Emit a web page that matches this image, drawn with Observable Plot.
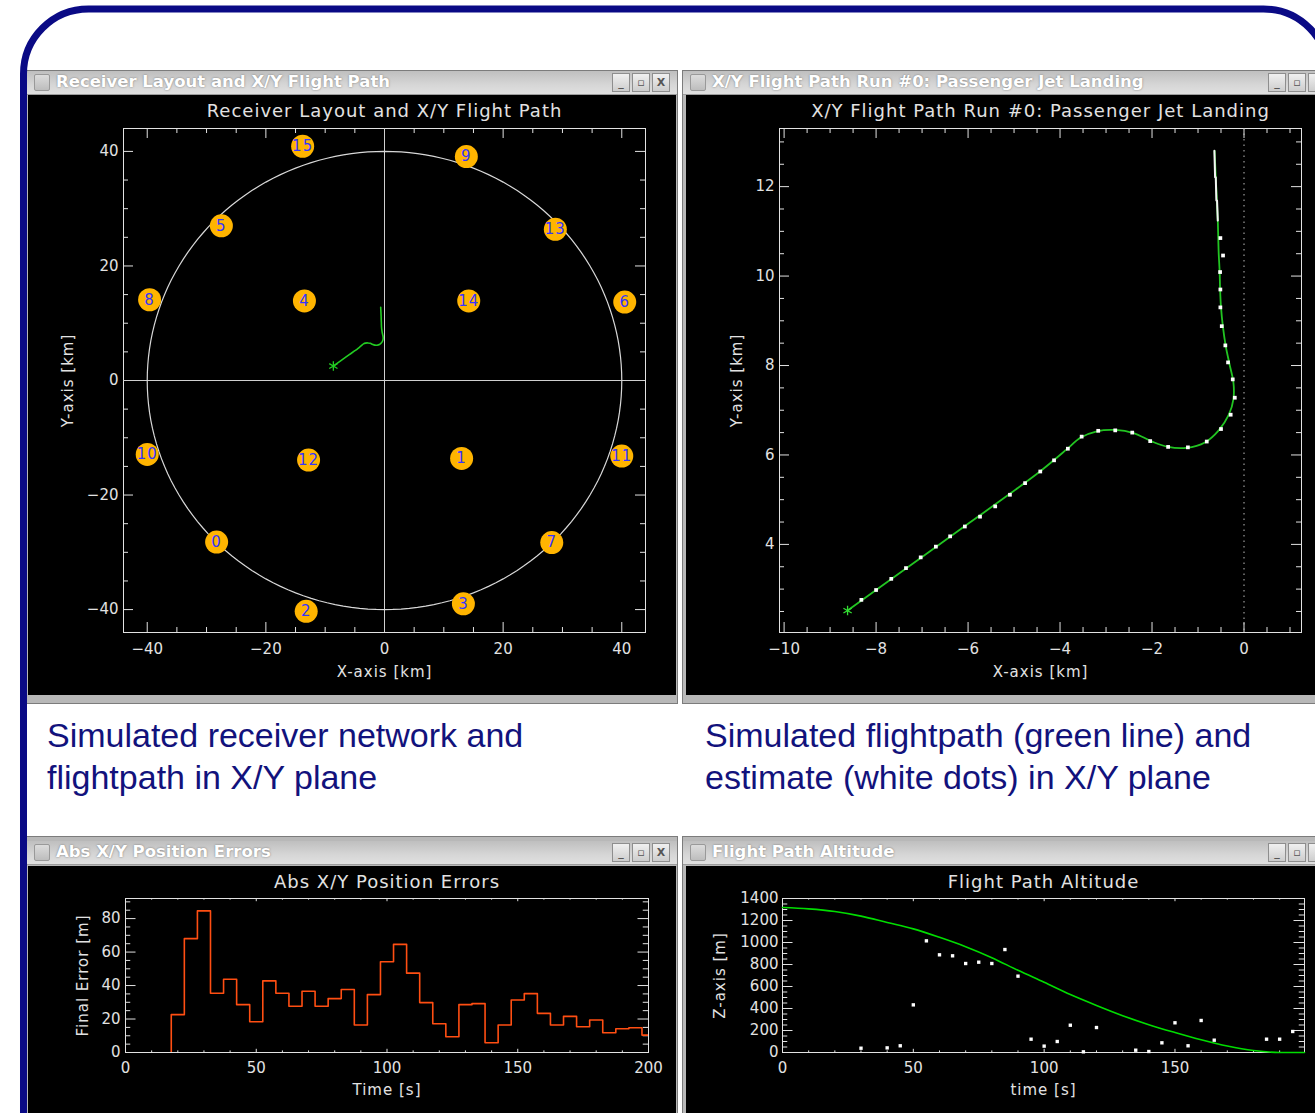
<!DOCTYPE html>
<html><head><meta charset="utf-8">
<script src="https://cdn.jsdelivr.net/npm/d3@7"></script>
<script src="https://cdn.jsdelivr.net/npm/@observablehq/plot@0.6"></script>
<style>
html,body{margin:0;padding:0;background:#fff;}
#page{position:relative;width:1315px;height:1113px;overflow:hidden;background:#fff;}
.win{position:absolute;background:#b8b8b8;border:1px solid #7c7c7c;box-sizing:border-box;}
.tbar{position:absolute;left:0;right:0;height:24px;background:linear-gradient(#bfbfbf,#d6d6d6 60%,#e0e0e0);border-bottom:1px solid #9c9c9c;box-sizing:border-box;}
.ico{position:absolute;left:7px;top:3px;width:14px;height:15px;border:1px solid #999;background:linear-gradient(#dcdcdc,#bdbdbd);border-radius:2px;}
.ttl{position:absolute;left:29px;top:1px;font:bold 16.5px "DejaVu Sans",sans-serif;color:#fff;white-space:nowrap;text-shadow:0 0 2px #707070;}
.btn{position:absolute;top:2px;width:16px;height:17px;border:1px solid #8e8e8e;background:linear-gradient(#f0f0f0,#cdcdcd);font:bold 11px "DejaVu Sans",sans-serif;color:#555;text-align:center;line-height:17px;}
.plot{position:absolute;background:#000;overflow:hidden;}
.cap{position:absolute;font-family:"Liberation Sans",Arial,sans-serif;font-size:34px;color:#12127c;line-height:42px;white-space:nowrap;}
.plot svg g[aria-label="text"] text{letter-spacing:1px;}
</style>
</head><body>
<div id="page">
  <div class="win" style="left:26px;top:70px;width:652px;height:634px;">
    <div class="tbar" style="top:0"><div class="ico"></div><div class="ttl">Receiver Layout and X/Y Flight Path</div>
      <div class="btn" style="left:585px">_</div><div class="btn" style="left:605px">▫</div><div class="btn" style="left:625px">X</div></div>
    <div class="plot" id="p1" style="left:1px;top:24px;width:648px;height:600px;"></div>
  </div>
  <div class="win" style="left:682px;top:70px;width:660px;height:634px;">
    <div class="tbar" style="top:0"><div class="ico"></div><div class="ttl">X/Y Flight Path Run #0: Passenger Jet Landing</div>
      <div class="btn" style="left:585px">_</div><div class="btn" style="left:605px">▫</div><div class="btn" style="left:625px"></div></div>
    <div class="plot" id="p2" style="left:3px;top:24px;width:629px;height:600px;"></div>
  </div>
  <div class="win" style="left:26px;top:836px;width:652px;height:300px;">
    <div class="tbar" style="top:4px"><div class="ico"></div><div class="ttl">Abs X/Y Position Errors</div>
      <div class="btn" style="left:585px">_</div><div class="btn" style="left:605px">▫</div><div class="btn" style="left:625px">X</div></div>
    <div class="plot" id="p3" style="left:1px;top:29px;width:648px;height:247px;"></div>
  </div>
  <div class="win" style="left:682px;top:836px;width:660px;height:300px;">
    <div class="tbar" style="top:4px"><div class="ico"></div><div class="ttl">Flight Path Altitude</div>
      <div class="btn" style="left:585px">_</div><div class="btn" style="left:605px">▫</div><div class="btn" style="left:625px"></div></div>
    <div class="plot" id="p4" style="left:3px;top:29px;width:629px;height:247px;"></div>
  </div>
  <div class="cap" style="left:47px;top:714px;">Simulated receiver network and<br>flightpath in X/Y plane</div>
  <div class="cap" style="left:705px;top:714px;">Simulated flightpath (green line) and<br>estimate (white dots) in X/Y plane</div>
  <svg style="position:absolute;left:0;top:0;" width="1315" height="1113">
    <rect x="23.5" y="9" width="1305" height="1200" rx="65" ry="65" fill="none" stroke="#0a0a85" stroke-width="7"/>
  </svg>
</div>
<script>
// ---------- data ----------
const receiverIds = [0,1,2,3,4,5,6,7,8,9,10,11,12,13,14,15];
const receiverX = [-28.3, 13.0, -13.2, 13.3, -13.5, -27.5, 40.5, 28.2, -39.6, 13.8, -40.0, 40.0, -12.8, 28.8, 14.2, -13.8];
const receiverY = [-28.2, -13.6, -40.3, -39.0, 13.9, 27.0, 13.7, -28.3, 14.1, 39.1, -12.9, -13.2, -13.9, 26.4, 13.9, 40.9];
const circleRadius = 40;

// true flight path in X/Y [km]
const pathX = [-8.62, -8.0, -7.0, -6.0, -5.0, -4.45, -4.15, -3.85, -3.55, -3.2, -2.8, -2.4, -2.0, -1.65, -1.25, -0.85, -0.55, -0.33, -0.23, -0.23, -0.32, -0.4, -0.46, -0.5, -0.52, -0.53, -0.55, -0.56, -0.57, -0.6, -0.64];
const pathY = [2.52, 2.98, 3.72, 4.46, 5.2, 5.62, 5.87, 6.13, 6.39, 6.53, 6.56, 6.49, 6.3, 6.18, 6.16, 6.28, 6.55, 6.9, 7.25, 7.62, 8.05, 8.45, 8.88, 9.3, 9.7, 10.1, 10.5, 10.85, 11.24, 11.9, 12.8];
// estimate (white dots) [km]
const estX = [-8.32, -8.0, -7.67, -7.35, -7.03, -6.70, -6.39, -6.07, -5.74, -5.41, -5.09, -4.76, -4.43, -4.13, -3.83, -3.53, -3.17, -2.80, -2.43, -2.04, -1.65, -1.22, -0.81, -0.50, -0.29, -0.20, -0.245, -0.347, -0.406, -0.484, -0.514, -0.514, -0.52, -0.456, -0.514];
const estY = [2.76, 2.98, 3.23, 3.47, 3.71, 3.95, 4.18, 4.40, 4.62, 4.85, 5.11, 5.37, 5.63, 5.88, 6.14, 6.41, 6.54, 6.55, 6.50, 6.31, 6.18, 6.17, 6.30, 6.58, 6.90, 7.28, 7.69, 8.07, 8.45, 8.88, 9.30, 9.70, 10.09, 10.46, 10.85];
// estimated track drawn as white line near the start of the run
const estLineX = [-0.644, -0.629, -0.614, -0.601, -0.586, -0.57];
const estLineY = [12.8, 12.21, 12.21, 11.69, 11.69, 11.24];

// abs X/Y position errors
const errTime = [20,25,30,35,40,45,50,55,60,65,70,75,80,85,90,95,100,105,110,115,120,125,130,135,140,145,150,155,160,165,170,175,180,185,190,195,200];
const errValue = [22.6, 68, 84.6, 35.4, 43.8, 28.6, 18.4, 42.8, 35.4, 27.6, 36.6, 27.6, 32.2, 37.6, 16.4, 34.6, 54.2, 64.6, 47.4, 29.8, 17.2, 9.4, 28.6, 29.2, 5.8, 16.4, 31.4, 35.2, 23.4, 16.4, 21.6, 15.4, 19.4, 11.8, 14.2, 14.8, 10.4];
const errBin = 5;

// altitude
const altTime = [0, 10, 20, 30, 40, 50, 60, 70, 80, 90, 100, 110, 120, 130, 140, 150, 160, 170, 180, 190, 199.5];
const altTrue = [1318, 1306, 1282, 1240, 1182, 1124, 1047, 962, 862, 747, 638, 527, 428, 335, 253, 182, 116, 59, 18, 0, 0];
const altEstTime = [30, 40, 45, 50, 55, 60, 65, 70, 75, 80, 85, 90, 95, 100, 105, 110, 115, 120, 135, 140, 145, 150, 155, 160, 165, 185, 190, 195];
const altEst = [39, 42, 61, 433, 1015, 888, 879, 809, 821, 809, 936, 694, 121, 58, 100, 248, 6, 227, 21, 9, 88, 270, 61, 291, 112, 121, 121, 191];

// tick labels
const p1Ticks = [-40, -20, 0, 20, 40];
const p2XTicks = [-10, -8, -6, -4, -2, 0];
const p2YTicks = [4, 6, 8, 10, 12];
const p3XTicks = [0, 50, 100, 150, 200];
const p3YTicks = [0, 20, 40, 60, 80];
const p4XTicks = [0, 50, 100, 150];
const p4YTicks = [0, 200, 400, 600, 800, 1000, 1200, 1400];

// ---------- helpers ----------
const FG = "#e2e2e2";
const FONT = "DejaVu Sans, sans-serif";
const minor = (a, b, step, majors) => d3.range(a, b + step / 2, step).map(v => +v.toFixed(4)).filter(v => !majors.some(m => Math.abs(m - v) < 1e-6));

function idlTicks(xMaj, xMin, yMaj, yMin, W, H, xLen, yLen) {
  const o = {stroke: FG, strokeWidth: 1};
  return [
    Plot.ruleX(xMaj, {insetTop: H - xLen, ...o}),
    Plot.ruleX(xMaj, {insetBottom: H - xLen, ...o}),
    Plot.ruleX(xMin, {insetTop: H - xLen / 2, ...o}),
    Plot.ruleX(xMin, {insetBottom: H - xLen / 2, ...o}),
    Plot.ruleY(yMaj, {insetRight: W - yLen, ...o}),
    Plot.ruleY(yMaj, {insetLeft: W - yLen, ...o}),
    Plot.ruleY(yMin, {insetRight: W - yLen / 2, ...o}),
    Plot.ruleY(yMin, {insetLeft: W - yLen / 2, ...o})
  ];
}
function labels(title, xl, yl, titleDy, xlDy, ylDx) {
  const t = {fill: FG, fontFamily: FONT, text: d => d, lineAnchor: "middle", textAnchor: "middle"};
  return [
    Plot.text([title], {...t, fontSize: 18, frameAnchor: "top", dy: titleDy}),
    Plot.text([xl], {...t, fontSize: 15, frameAnchor: "bottom", dy: xlDy}),
    Plot.text([yl], {...t, fontSize: 15, frameAnchor: "left", dx: ylDx, rotate: -90})
  ];
}
const style = {background: "#000", color: FG, fontFamily: FONT, fontSize: "15px"};
const fmt = d3.format("d");

// ---------- panel 1 ----------
{
  const W = 648, H = 600, m = {l: 95, r: 31, t: 33, b: 63};
  const iw = W - m.l - m.r, ih = H - m.t - m.b;
  const recv = receiverIds.map((id, i) => ({id, x: receiverX[i], y: receiverY[i]}));
  const circle = d3.range(0, 361, 2).map(a => ({x: circleRadius * Math.cos(a * Math.PI / 180), y: circleRadius * Math.sin(a * Math.PI / 180)}));
  const path = pathX.map((x, i) => ({x, y: pathY[i]}));
  const xm = minor(-40, 40, 5, p1Ticks);
  const chart = Plot.plot({
    width: W, height: H, marginLeft: m.l, marginRight: m.r, marginTop: m.t, marginBottom: m.b,
    style,
    x: {domain: [-44, 44], ticks: p1Ticks, tickSize: 0, tickPadding: 11, tickFormat: fmt, label: null},
    y: {domain: [-44, 44], ticks: p1Ticks, tickSize: 0, tickPadding: 5, tickFormat: fmt, label: null},
    marks: [
      Plot.frame({stroke: FG}),
      ...idlTicks(p1Ticks, xm, p1Ticks, xm, iw, ih, 10, 10),
      Plot.ruleX([0], {stroke: "#d0d0d0"}),
      Plot.ruleY([0], {stroke: "#d0d0d0"}),
      Plot.line(circle, {x: "x", y: "y", stroke: "#d8d8d8", strokeWidth: 1.2}),
      Plot.line(path, {x: "x", y: "y", stroke: "#22cc22", strokeWidth: 1.6, curve: "catmull-rom"}),
      Plot.dot([path[0]], {x: "x", y: "y", symbol: "asterisk", stroke: "#22cc22", r: 4.5, strokeWidth: 1.3}),
      Plot.dot(recv, {x: "x", y: "y", r: 11.5, fill: "#ffb400"}),
      Plot.text(recv, {x: "x", y: "y", text: "id", fill: "#3434ff", fontSize: 15, fontFamily: FONT, ariaLabel: "receiver id"}),
      ...labels("Receiver Layout and X/Y Flight Path", "X-axis [km]", "Y-axis [km]", -17, 40, -55)
    ]
  });
  document.getElementById("p1").append(chart);
}

// ---------- panel 2 ----------
{
  const W = 629, H = 600, m = {l: 93, r: 14, t: 33, b: 63};
  const iw = W - m.l - m.r, ih = H - m.t - m.b;
  const path = pathX.map((x, i) => ({x, y: pathY[i]}));
  const est = estX.map((x, i) => ({x, y: estY[i]}));
  const estLine = estLineX.map((x, i) => ({x, y: estLineY[i]}));
  const chart = Plot.plot({
    width: W, height: H, marginLeft: m.l, marginRight: m.r, marginTop: m.t, marginBottom: m.b,
    style,
    x: {domain: [-10.1, 1.25], ticks: p2XTicks, tickSize: 0, tickPadding: 11, tickFormat: fmt, label: null},
    y: {domain: [2.03, 13.3], ticks: p2YTicks, tickSize: 0, tickPadding: 5, tickFormat: fmt, label: null},
    marks: [
      Plot.frame({stroke: FG}),
      ...idlTicks(p2XTicks, minor(-10, 1, 0.5, p2XTicks), p2YTicks, minor(2.5, 13, 0.5, p2YTicks), iw, ih, 10, 10),
      Plot.ruleX([0], {stroke: "#bbbbbb", strokeDasharray: "1.5,4"}),
      Plot.line(path, {x: "x", y: "y", stroke: "#22c422", strokeWidth: 1.8, curve: "catmull-rom"}),
      Plot.line(estLine, {x: "x", y: "y", stroke: "#f4f4f4", strokeWidth: 2}),
      Plot.dot(est, {x: "x", y: "y", symbol: "square", r: 2.1, fill: "#ffffff"}),
      Plot.dot([path[0]], {x: "x", y: "y", symbol: "asterisk", stroke: "#33dd33", r: 4.5, strokeWidth: 1.3}),
      ...labels("X/Y Flight Path Run #0: Passenger Jet Landing", "X-axis [km]", "Y-axis [km]", -17, 40, -42)
    ]
  });
  document.getElementById("p2").append(chart);
}

// ---------- panel 3 ----------
{
  const W = 648, H = 247, m = {l: 97, r: 28, t: 32, b: 61};
  const iw = W - m.l - m.r, ih = H - m.t - m.b;
  const steps = [{x: errTime[0] - errBin / 2, y: 0}]
    .concat(errTime.map((t, i) => ({x: t - errBin / 2, y: errValue[i]})))
    .concat([{x: errTime[errTime.length - 1] + errBin / 2, y: errValue[errValue.length - 1]}]);
  const chart = Plot.plot({
    width: W, height: H, marginLeft: m.l, marginRight: m.r, marginTop: m.t, marginBottom: m.b,
    style,
    x: {domain: [0, 200], ticks: p3XTicks, tickSize: 0, tickPadding: 10, tickFormat: fmt, label: null},
    y: {domain: [0, 92], ticks: p3YTicks, tickSize: 0, tickPadding: 5, tickFormat: fmt, label: null},
    marks: [
      Plot.frame({stroke: FG}),
      ...idlTicks(p3XTicks, minor(0, 200, 10, p3XTicks), p3YTicks, minor(0, 90, 5, p3YTicks), iw, ih, 3.2, 10.5),
      Plot.line(steps, {x: "x", y: "y", curve: "step-after", stroke: "#ff4e12", strokeWidth: 1.6, clip: true}),
      ...labels("Abs X/Y Position Errors", "Time [s]", "Final Error [m]", -16, 38, -42)
    ]
  });
  document.getElementById("p3").append(chart);
}

// ---------- panel 4 ----------
{
  const W = 629, H = 247, m = {l: 96, r: 11, t: 32, b: 61};
  const iw = W - m.l - m.r, ih = H - m.t - m.b;
  const truth = altTime.map((t, i) => ({t, z: altTrue[i]}));
  const est = altEstTime.map((t, i) => ({t, z: altEst[i]}));
  const chart = Plot.plot({
    width: W, height: H, marginLeft: m.l, marginRight: m.r, marginTop: m.t, marginBottom: m.b,
    style,
    x: {domain: [0, 199.5], ticks: p4XTicks, tickSize: 0, tickPadding: 10, tickFormat: fmt, label: null},
    y: {domain: [0, 1400], ticks: p4YTicks, tickSize: 0, tickPadding: 4, tickFormat: fmt, label: null},
    marks: [
      Plot.frame({stroke: FG}),
      ...idlTicks(p4XTicks, minor(0, 190, 10, p4XTicks), p4YTicks, minor(0, 1400, 50, p4YTicks), iw, ih, 3.2, 10.5),
      Plot.line(truth, {x: "t", y: "z", stroke: "#00dd00", strokeWidth: 1.6, curve: "monotone-x"}),
      Plot.dot(est, {x: "t", y: "z", symbol: "square", r: 1.9, fill: "#ffffff"}),
      ...labels("Flight Path Altitude", "time [s]", "Z-axis [m]", -16, 38, -62)
    ]
  });
  document.getElementById("p4").append(chart);
}
</script>
</body></html>
